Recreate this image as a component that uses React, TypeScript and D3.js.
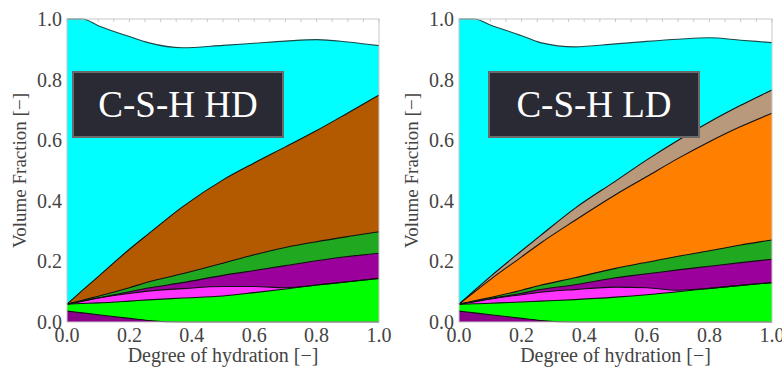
import React from "react";
import * as d3 from "d3";

// Degree of hydration sample points
const hydration = [0, 0.05, 0.1, 0.2, 0.26, 0.37, 0.5, 0.6, 0.7, 0.8, 0.9, 1.0];
const tickValues = [0, 0.2, 0.4, 0.6, 0.8, 1.0];

// Cumulative volume fraction (upper edge of each phase) — C-S-H HD
const hdAnhydrousBase = [0.036, 0.03, 0.024, 0.012, 0.005, 0, 0, 0, 0, 0, 0, 0];
const hdClinker = [0.059, 0.061, 0.063, 0.069, 0.073, 0.079, 0.086, 0.097, 0.109, 0.122, 0.133, 0.144];
const hdGypsum = [0.059, 0.069, 0.079, 0.094, 0.102, 0.11, 0.117, 0.117, 0.113, 0.122, 0.133, 0.144];
const hdAluminate = [0.059, 0.069, 0.079, 0.1, 0.112, 0.13, 0.154, 0.17, 0.186, 0.202, 0.216, 0.227];
const hdPortlandite = [0.059, 0.072, 0.085, 0.113, 0.132, 0.159, 0.194, 0.222, 0.246, 0.265, 0.282, 0.298];
const hdCSH = [0.059, 0.105, 0.15, 0.24, 0.29, 0.38, 0.469, 0.525, 0.578, 0.632, 0.69, 0.749];
const hdWater = [1.0, 1.0, 0.978, 0.942, 0.922, 0.905, 0.913, 0.92, 0.927, 0.932, 0.924, 0.912];

// C-S-H LD
const ldAnhydrousBase = [0.036, 0.03, 0.024, 0.012, 0.005, 0, 0, 0, 0, 0, 0, 0];
const ldClinker = [0.059, 0.06, 0.062, 0.066, 0.069, 0.074, 0.082, 0.09, 0.1, 0.111, 0.121, 0.13];
const ldGypsum = [0.059, 0.067, 0.076, 0.09, 0.098, 0.107, 0.115, 0.113, 0.105, 0.111, 0.121, 0.13];
const ldAluminate = [0.059, 0.068, 0.077, 0.095, 0.107, 0.123, 0.146, 0.159, 0.172, 0.184, 0.196, 0.207];
const ldPortlandite = [0.059, 0.07, 0.081, 0.105, 0.121, 0.146, 0.177, 0.197, 0.217, 0.235, 0.254, 0.271];
const ldCSH = [0.059, 0.1, 0.14, 0.215, 0.26, 0.335, 0.42, 0.48, 0.54, 0.595, 0.645, 0.689];
const ldCSHHD = [0.059, 0.105, 0.15, 0.235, 0.285, 0.375, 0.465, 0.535, 0.6, 0.66, 0.715, 0.766];
const ldWater = [1.0, 1.0, 0.98, 0.945, 0.922, 0.908, 0.918, 0.926, 0.933, 0.938, 0.93, 0.922];

type Layer = { top: number[]; color: string };

const hdLayers: Layer[] = [
  { top: hdWater, color: "#00ffff" },
  { top: hdCSH, color: "#b35a00" },
  { top: hdPortlandite, color: "#20a820" },
  { top: hdAluminate, color: "#9c009c" },
  { top: hdGypsum, color: "#ff33ff" },
  { top: hdClinker, color: "#00ff00" },
  { top: hdAnhydrousBase, color: "#8a008a" },
];

const ldLayers: Layer[] = [
  { top: ldWater, color: "#00ffff" },
  { top: ldCSHHD, color: "#b8997c" },
  { top: ldCSH, color: "#ff8000" },
  { top: ldPortlandite, color: "#20a820" },
  { top: ldAluminate, color: "#9c009c" },
  { top: ldGypsum, color: "#ff33ff" },
  { top: ldClinker, color: "#00ff00" },
  { top: ldAnhydrousBase, color: "#8a008a" },
];

const FONT = "'Liberation Serif', 'Times New Roman', serif";
const TOP = 19;
const BOTTOM = 322;

function Panel({ x0, x1, layers, title, boxX }: { x0: number; x1: number; layers: Layer[]; title: string; boxX: number }) {
  const x = d3.scaleLinear().domain([0, 1]).range([x0, x1]);
  const y = d3.scaleLinear().domain([0, 1]).range([BOTTOM, TOP]);
  const area = d3
    .area<number>()
    .x((_, i) => x(hydration[i]))
    .y0(() => y(0))
    .y1((d) => y(d))
    .curve(d3.curveMonotoneX);
  const line = d3
    .line<number>()
    .x((_, i) => x(hydration[i]))
    .y((d) => y(d))
    .curve(d3.curveMonotoneX);
  const minor = d3.range(0, 1.0001, 0.05);
  const labelX = x0 - 48;
  return (
    <g>
      <rect x={x0} y={TOP} width={x1 - x0} height={BOTTOM - TOP} fill="#fff" />
      {layers.map((l, i) => (
        <path key={"a" + i} d={area(l.top) || ""} fill={l.color} />
      ))}
      {layers.map((l, i) => (
        <path
          key={"l" + i}
          d={line(l.top) || ""}
          fill="none"
          stroke={i === 0 ? "#1c4848" : "#111"}
          strokeWidth={1.1}
        />
      ))}
      <rect x={x0} y={TOP} width={x1 - x0} height={BOTTOM - TOP} fill="none" stroke="#c8c8c8" strokeWidth={1} />
      {minor.map((t, i) => (
        <line key={"m" + i} x1={x(t)} x2={x(t)} y1={TOP} y2={TOP + 3} stroke="#bbb" strokeWidth={0.8} />
      ))}
      {tickValues.map((t) => (
        <text
          key={"y" + t}
          x={x0 - 5}
          y={y(t)}
          textAnchor="end"
          dominantBaseline="central"
          style={{ fontFamily: FONT }}
          fontSize={20}
          fill="#444"
        >
          {t.toFixed(1)}
        </text>
      ))}
      {tickValues.map((t) => (
        <text key={"x" + t} x={x(t)} y={342} textAnchor="middle" style={{ fontFamily: FONT }} fontSize={20} fill="#444">
          {t.toFixed(1)}
        </text>
      ))}
      <text x={(x0 + x1) / 2} y={362} textAnchor="middle" style={{ fontFamily: FONT }} fontSize={20} fill="#444">
        Degree of hydration [−]
      </text>
      <text
        transform={`translate(${labelX},${(TOP + BOTTOM) / 2}) rotate(-90)`}
        textAnchor="middle"
        dominantBaseline="central"
        style={{ fontFamily: FONT }}
        fontSize={19}
        fill="#444"
      >
        Volume Fraction [−]
      </text>
      <rect x={boxX} y={72} width={210} height={65} fill="#2a2a34" stroke="#6a6a6a" strokeWidth={2} />
      <text x={boxX + 105} y={117} textAnchor="middle" style={{ fontFamily: FONT }} fontSize={37} fill="#ffffff">
        {title}
      </text>
    </g>
  );
}

export default function App() {
  return (
    <svg width={782} height={375} style={{ position: "absolute", left: 0, top: 0, background: "#fff" }}>
      <Panel x0={67} x1={379} layers={hdLayers} title="C-S-H HD" boxX={73} />
      <Panel x0={459} x1={772} layers={ldLayers} title="C-S-H LD" boxX={489} />
    </svg>
  );
}
